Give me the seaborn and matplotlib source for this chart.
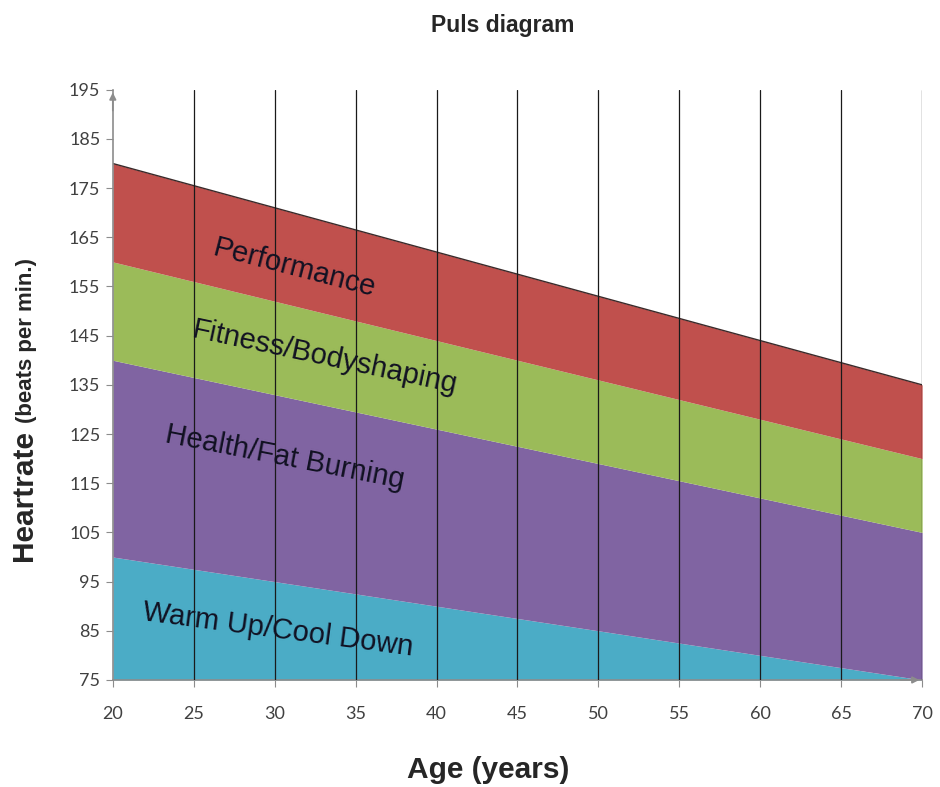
import numpy as np
import pandas as pd
import matplotlib
matplotlib.use("Agg")
import matplotlib.pyplot as plt
import seaborn as sns

# ages and zone upper limits (beats per minute)
ages = [20, 25, 30, 35, 40, 45, 50, 55, 60, 65, 70]
performance_top = [180, 175.5, 171, 166.5, 162, 157.5, 153, 148.5, 144, 139.5, 135]
fitness_top = [160, 156, 152, 148, 144, 140, 136, 132, 128, 124, 120]
health_top = [140, 136.5, 133, 129.5, 126, 122.5, 119, 115.5, 112, 108.5, 105]
warmup_top = [100, 97.5, 95, 92.5, 90, 87.5, 85, 82.5, 80, 77.5, 75]
zone_names = ["Performance", "Fitness/Bodyshaping", "Health/Fat Burning", "Warm Up/Cool Down"]
y_ticks = [75, 85, 95, 105, 115, 125, 135, 145, 155, 165, 175, 185, 195]

df = pd.DataFrame({"age": ages, "perf": performance_top, "fit": fitness_top,
                   "health": health_top, "warm": warmup_top})

sns.set_style("white")
plt.rcParams['font.family'] = ['Liberation Sans', 'DejaVu Sans']

fig = plt.figure(figsize=(9.4, 7.87), dpi=100)
ax = fig.add_axes([0.120, 0.136, 0.861, 0.750])

colors = {"perf": "#c0504d", "fit": "#9bbb59", "health": "#8064a2", "warm": "#4bacc6"}

ax.fill_between(df["age"], 75, df["warm"], color=colors["warm"], lw=0, zorder=1)
ax.fill_between(df["age"], df["warm"], df["health"], color=colors["health"], lw=0, zorder=1)
ax.fill_between(df["age"], df["health"], df["fit"], color=colors["fit"], lw=0, zorder=1)
ax.fill_between(df["age"], df["fit"], df["perf"], color=colors["perf"], lw=0, zorder=1)
sns.lineplot(data=df, x="age", y="perf", color="#3a2a2a", lw=1.0, ax=ax, zorder=2)

# vertical grid lines
for a in ages[1:]:
    ax.axvline(a, color="#1a1a1a", lw=0.9, zorder=3)

ax.set_xlim(20, 70)
ax.set_ylim(75, 195)
ax.set_xticks(ages)
ax.set_yticks(y_ticks)
ax.tick_params(axis="both", labelsize=13, colors="#8c8c8c", length=5, width=0.8,
               direction="out", bottom=True, left=True)
ax.tick_params(axis="x", pad=14)
ax.tick_params(axis="y", pad=4)
for lab in ax.get_xticklabels() + ax.get_yticklabels():
    lab.set_color("#404040")
    lab.set_family(["Lato", "DejaVu Sans"])
ax.set_xlabel("")
ax.set_ylabel("")

for s in ["top", "right"]:
    ax.spines[s].set_visible(False)
for s in ["left", "bottom"]:
    ax.spines[s].set_color("#8c8c8c")
    ax.spines[s].set_linewidth(1.2)

# axis arrows
ax.annotate("", xy=(0, 1.0), xytext=(0, 0.96), xycoords="axes fraction",
            arrowprops=dict(arrowstyle="-|>", color="#8c8c8c", lw=1.2), annotation_clip=False)
ax.annotate("", xy=(1.0, 0), xytext=(0.97, 0), xycoords="axes fraction",
            arrowprops=dict(arrowstyle="-|>", color="#8c8c8c", lw=1.2), annotation_clip=False)

# zone labels
label_pos = [(31.25, 158.8), (33.1, 140.5), (30.6, 120.2), (30.2, 85.2)]
label_rot = [-14.5, -12, -11, -7.5]
for name, (x, y), r in zip(zone_names, label_pos, label_rot):
    ax.text(x, y, name, fontsize=21, color="#111122", rotation=r,
            ha="center", va="center", rotation_mode="anchor", zorder=4)

fig.text(0.535, 0.968, "Puls diagram", fontsize=16.5, fontweight="bold", ha="center", va="center")
fig.text(0.519, 0.022, "Age (years)", fontsize=21.5, fontweight="bold", ha="center", va="center")
fig.text(0.026, 0.370, "Heartrate", fontsize=21.5, fontweight="bold", rotation=90,
         ha="center", va="center")
fig.text(0.028, 0.567, "(beats per min.)", fontsize=16, fontweight="bold", rotation=90,
         ha="center", va="center")

fig.savefig("out.png", dpi=100)
